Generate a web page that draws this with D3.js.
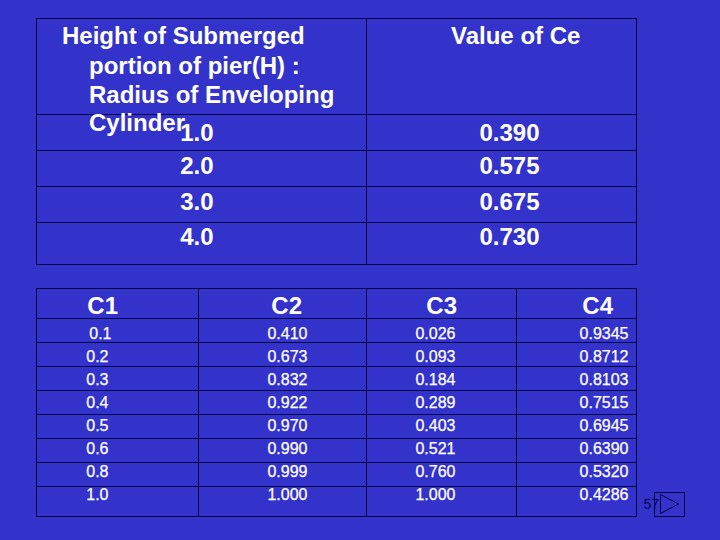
<!DOCTYPE html>
<html>
<head>
<meta charset="utf-8">
<script src="https://cdn.jsdelivr.net/npm/d3@7"></script>
<style>
  html, body { margin: 0; padding: 0; background: #3333cc; }
  svg { display: block; }
  text { font-family: "Liberation Sans", Arial, sans-serif; fill: #fff; }
  text.big { font-size: 24px; font-weight: bold; }
  text.small { font-size: 16px; stroke: #fff; stroke-width: 0.25px; }
  line, rect.frame { stroke: #000044; stroke-width: 1; shape-rendering: crispEdges; fill: none; }
</style>
</head>
<body>
<script>
// upper table
const headerLines = ["Height of Submerged", "portion of pier(H) :", "Radius of Enveloping", "Cylinder"];
const headerCe = "Value of Ce";
const ratios = ["1.0", "2.0", "3.0", "4.0"];
const ceValues = ["0.390", "0.575", "0.675", "0.730"];

// lower table
const columns = ["C1", "C2", "C3", "C4"];
const c1 = ["0.1", "0.2", "0.3", "0.4", "0.5", "0.6", "0.8", "1.0"];
const c2 = ["0.410", "0.673", "0.832", "0.922", "0.970", "0.990", "0.999", "1.000"];
const c3 = ["0.026", "0.093", "0.184", "0.289", "0.403", "0.521", "0.760", "1.000"];
const c4 = ["0.9345", "0.8712", "0.8103", "0.7515", "0.6945", "0.6390", "0.5320", "0.4286"];
const pageNumber = "57";

const width = 720;
const height = 540;

const svg = d3.select("body")
  .append("svg")
  .attr("width", width)
  .attr("height", height);

// Upper table grid
const upper = svg.append("g");
upper.append("rect").attr("class", "frame")
  .attr("x", 36.5).attr("y", 18.5).attr("width", 600).attr("height", 246);
upper.selectAll("line.h")
  .data([114.5, 150.5, 186.5, 222.5])
  .enter().append("line")
  .attr("x1", 36.5).attr("x2", 636.5)
  .attr("y1", d => d).attr("y2", d => d);
upper.append("line")
  .attr("x1", 366.5).attr("x2", 366.5)
  .attr("y1", 18.5).attr("y2", 264.5);

// Header text
const headerY = d3.scaleOrdinal().domain(d3.range(headerLines.length)).range([44, 74, 103, 131]);
upper.selectAll("text.head")
  .data(headerLines)
  .enter().append("text")
  .attr("class", "head big")
  .attr("x", (d, i) => i === 0 ? 62 : 89)
  .attr("y", (d, i) => headerY(i))
  .text(d => d);

upper.append("text")
  .attr("class", "big")
  .attr("x", 451).attr("y", 44)
  .text(headerCe);

// Row baselines are not evenly spaced in the upper table
const upperY = d3.scaleOrdinal().domain(ratios).range([141, 174, 210, 245]);

upper.selectAll("text.ratio")
  .data(ratios)
  .enter().append("text")
  .attr("class", "ratio big")
  .attr("x", 213.5)
  .attr("y", d => upperY(d))
  .attr("text-anchor", "end")
  .text(d => d);

upper.selectAll("text.ce")
  .data(ceValues)
  .enter().append("text")
  .attr("class", "ce big")
  .attr("x", 539.5)
  .attr("y", (d, i) => upperY(ratios[i]))
  .attr("text-anchor", "end")
  .text(d => d);

// Lower table grid
const lower = svg.append("g");
lower.append("rect").attr("class", "frame")
  .attr("x", 36.5).attr("y", 288.5).attr("width", 600).attr("height", 228);
lower.selectAll("line.h")
  .data([318.5, 342.5, 366.5, 390.5, 414.5, 438.5, 462.5, 486.5])
  .enter().append("line")
  .attr("x1", 36.5).attr("x2", 636.5)
  .attr("y1", d => d).attr("y2", d => d);
lower.selectAll("line.v")
  .data([198.5, 366.5, 516.5])
  .enter().append("line")
  .attr("x1", d => d).attr("x2", d => d)
  .attr("y1", 288.5).attr("y2", 516.5);

const rowY = d3.scalePoint().domain(d3.range(c1.length)).range([339, 500]);
const colEnd = d3.scaleOrdinal().domain(columns).range([108.5, 307.5, 455.5, 628.5]);
const headEnd = d3.scaleOrdinal().domain(columns).range([118, 302, 457, 613]);

lower.selectAll("text.colhead")
  .data(columns)
  .enter().append("text")
  .attr("class", "colhead big")
  .attr("x", d => headEnd(d))
  .attr("y", 314)
  .attr("text-anchor", "end")
  .text(d => d);

[c1, c2, c3, c4].forEach((values, k) => {
  lower.selectAll("text.v" + k)
    .data(values)
    .enter().append("text")
    .attr("class", "small v" + k)
    // first C1 cell sits a little to the right of the rest
    .attr("x", (d, i) => colEnd(columns[k]) + (k === 0 && i === 0 ? 3 : 0))
    .attr("y", (d, i) => rowY(i))
    .attr("text-anchor", "end")
    .text(d => d);
});

// Page number and next button
svg.append("text")
  .attr("x", 643.5).attr("y", 509)
  .attr("font-size", 14)
  .style("fill", "#000055")
  .text(pageNumber);
svg.append("rect").attr("class", "frame")
  .attr("x", 654.5).attr("y", 492.5).attr("width", 30).attr("height", 24);
svg.append("path")
  .attr("d", "M660.5,494.5L678.5,504L660.5,513.5Z")
  .attr("fill", "none")
  .attr("stroke", "#000044");
</script>
</body>
</html>
